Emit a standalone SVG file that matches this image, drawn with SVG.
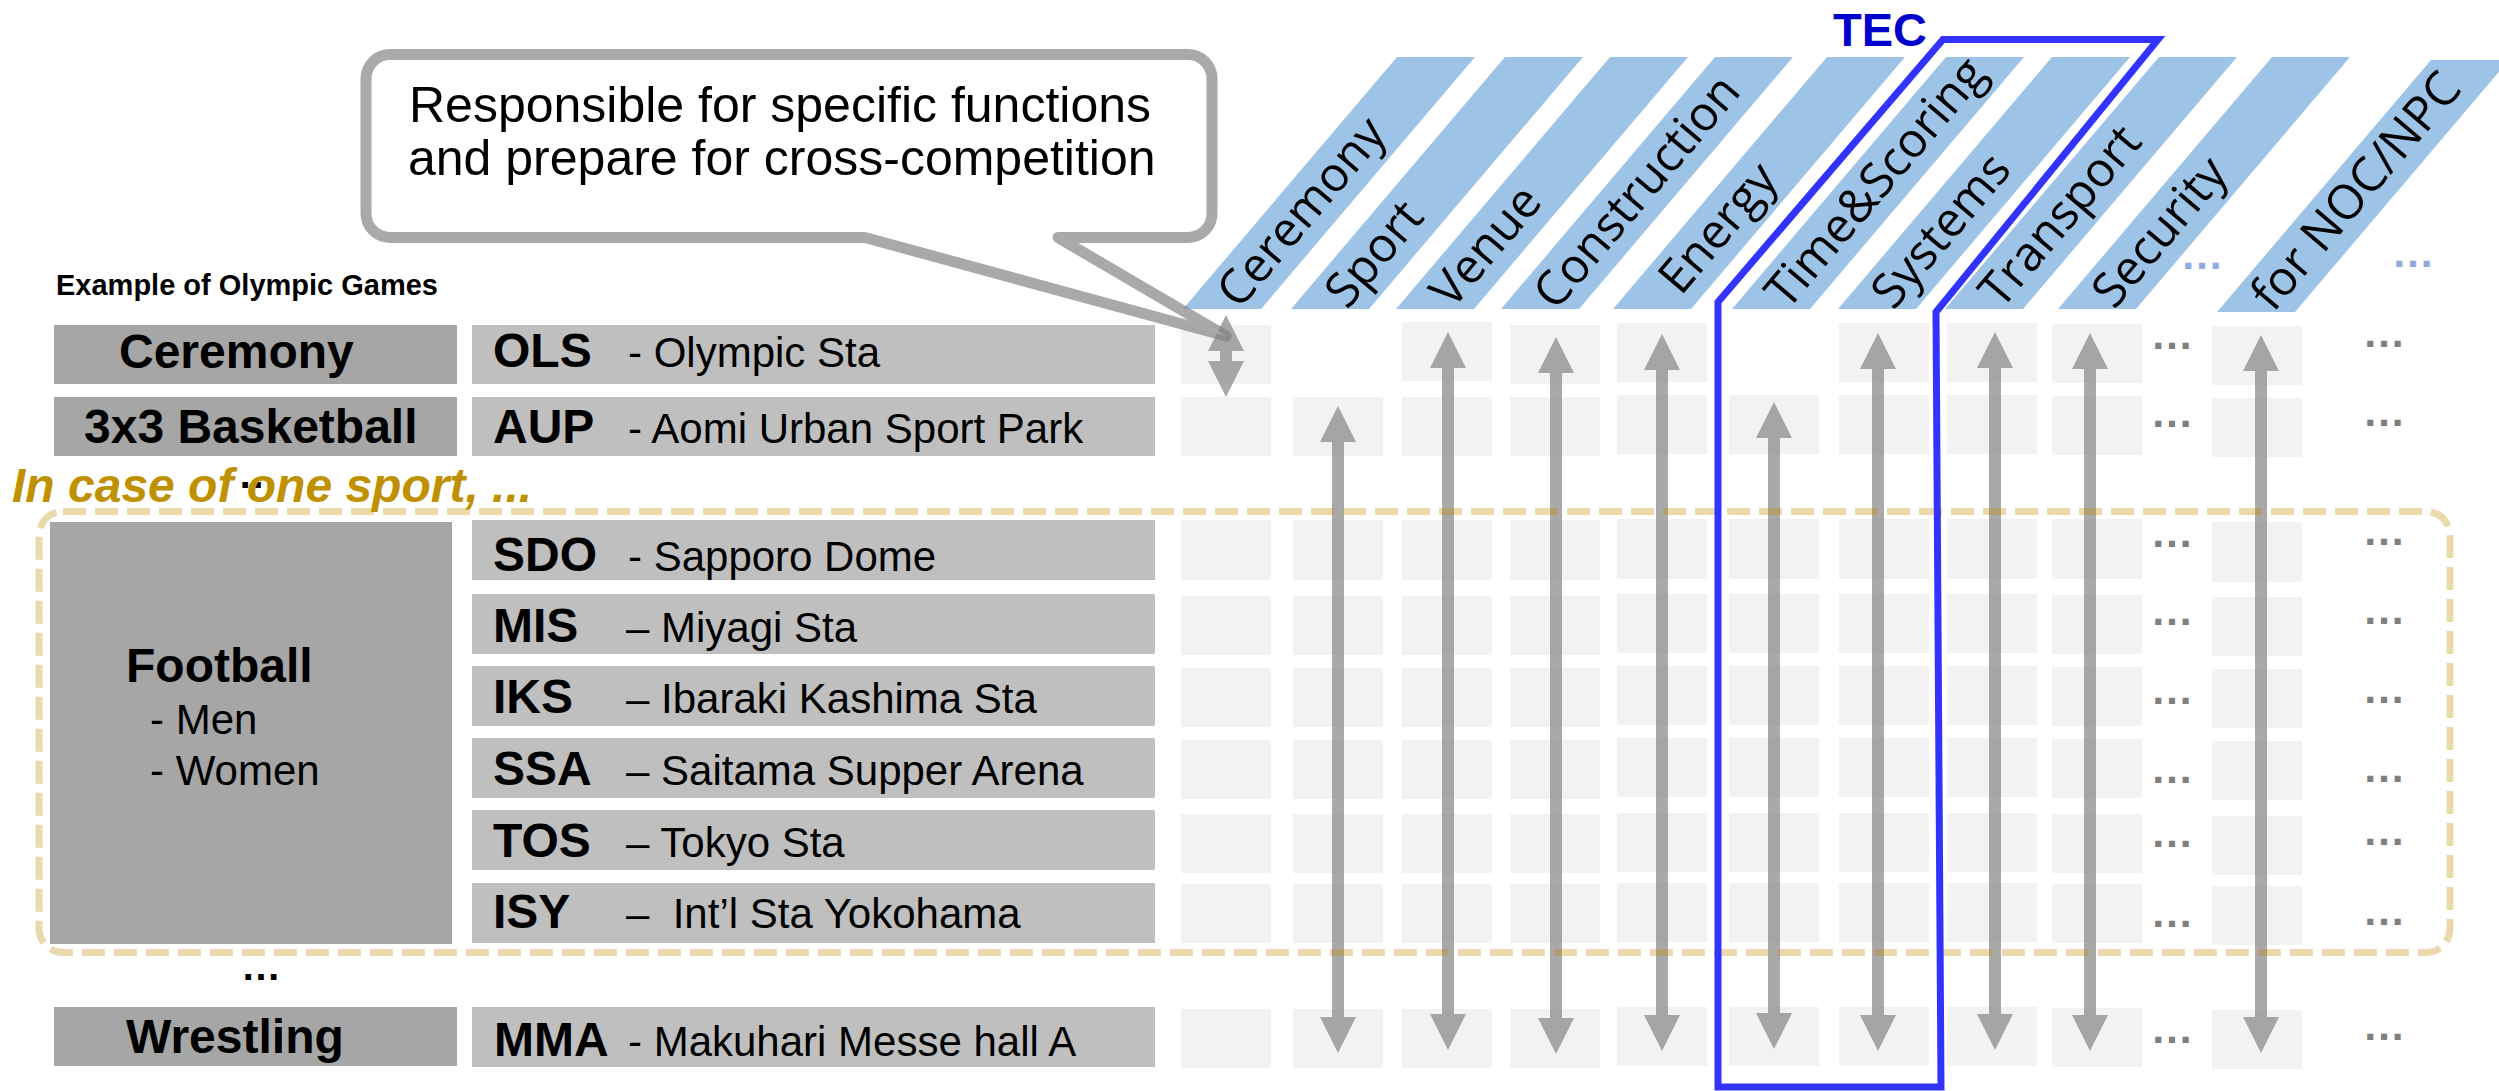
<svg xmlns="http://www.w3.org/2000/svg" width="2499" height="1091" viewBox="0 0 2499 1091">
  <style>
    .sp { fill: #A6A6A6; }
    .vn { fill: #BFBFBF; }
    .cell { fill: #F2F2F2; }
    .hd { fill: #9DC3E6; }
    .hl { font-family: "Open Sans", "Noto Sans", sans-serif; font-size: 48px; font-weight: 400; fill: #000; }
    .bold { font-family: "Liberation Sans", Arial, sans-serif; font-weight: bold; font-size: 48px; fill: #000; }
    .reg { font-family: "Liberation Sans", Arial, sans-serif; font-size: 42px; fill: #000; }
    .arr { fill: #808080; fill-opacity: 0.68; }
    .gdots { font-family: "Liberation Sans", Arial, sans-serif; font-weight: bold; font-size: 43px; fill: #7F7F7F; text-anchor: middle; }
    .bdots { font-family: "Liberation Sans", Arial, sans-serif; font-weight: bold; font-size: 43px; fill: #8FAADC; text-anchor: middle; }
    .kdots { font-family: "Liberation Sans", Arial, sans-serif; font-weight: bold; font-size: 40px; fill: #000; text-anchor: middle; }
  </style>

  <!-- function headers: slanted bands with rotated labels -->
  <g id="headers">
    <g id="hdr-ceremony"><polygon class="hd" points="1183,309 1261,309 1475,57 1397,57"/><text class="hl" transform="translate(1222,309) rotate(-49.66)" x="10" y="14">Ceremony</text></g>
    <g id="hdr-sport"><polygon class="hd" points="1291,309 1369,309 1583,57 1505,57"/><text class="hl" transform="translate(1330,309) rotate(-49.66)" x="10" y="14">Sport</text></g>
    <g id="hdr-venue"><polygon class="hd" points="1396,309 1474,309 1688,57 1610,57"/><text class="hl" transform="translate(1435,309) rotate(-49.66)" x="10" y="14">Venue</text></g>
    <g id="hdr-construction"><polygon class="hd" points="1501,309 1579,309 1793,57 1715,57"/><text class="hl" transform="translate(1540,309) rotate(-49.66)" x="8" y="14">Construction</text></g>
    <g id="hdr-energy"><polygon class="hd" points="1613,309 1691,309 1905,57 1827,57"/><text class="hl" transform="translate(1652,309) rotate(-49.66)" x="28" y="14">Energy</text></g>
    <g id="hdr-timescoring"><polygon class="hd" points="1732,309 1810,309 2024,57 1946,57"/><text class="hl" transform="translate(1771,309) rotate(-49.66)" x="9" y="14">Time&amp;Scoring</text></g>
    <g id="hdr-systems"><polygon class="hd" points="1838,309 1916,309 2130,57 2052,57"/><text class="hl" transform="translate(1877,309) rotate(-49.66)" x="9" y="14">Systems</text></g>
    <g id="hdr-transport"><polygon class="hd" points="1945,309 2023,309 2237,57 2159,57"/><text class="hl" transform="translate(1984,309) rotate(-49.66)" x="10" y="14">Transport</text></g>
    <g id="hdr-security"><polygon class="hd" points="2058,309 2136,309 2350,57 2272,57"/><text class="hl" transform="translate(2097,309) rotate(-49.66)" x="10" y="14">Security</text></g>
    <g id="hdr-noc"><polygon class="hd" points="2217,312 2295,312 2509,60 2431,60"/><text class="hl" transform="translate(2256,312) rotate(-49.66)" x="10" y="14">for NOC/NPC</text></g>
    <text class="bdots" x="2202" y="269">…</text>
    <text class="bdots" x="2413" y="267">…</text>
  </g>

  <text id="caption" x="56" y="295" font-family="Liberation Sans, Arial, sans-serif" font-weight="bold" font-size="29" fill="#000">Example of Olympic Games</text>

  <!-- sport column -->
  <g id="sports">
    <g id="sport-ceremony"><rect class="sp" x="54" y="325" width="403" height="59"/><text class="bold" x="119" y="368">Ceremony</text></g>
    <g id="sport-basketball"><rect class="sp" x="54" y="397" width="403" height="59"/><text class="bold" x="84" y="443">3x3 Basketball</text></g>
    <g id="sport-football"><rect class="sp" x="50" y="522" width="402" height="422"/><text class="bold" x="126" y="682">Football</text><text class="reg" x="150" y="734">- Men</text><text class="reg" x="150" y="785">- Women</text></g>
    <g id="sport-wrestling"><rect class="sp" x="54" y="1007" width="403" height="59"/><text class="bold" x="126" y="1053">Wrestling</text></g>
  </g>

  <!-- venue column -->
  <g id="venues">
    <g id="venue-ols"><rect class="vn" x="472" y="325" width="683" height="59"/><text class="bold" x="493" y="367">OLS</text><text class="reg" x="628" y="367">- Olympic Sta</text></g>
    <g id="venue-aup"><rect class="vn" x="472" y="397" width="683" height="59"/><text class="bold" x="493" y="443">AUP</text><text class="reg" x="628" y="443">- Aomi Urban Sport Park</text></g>
    <g id="venue-sdo"><rect class="vn" x="472" y="520" width="683" height="60"/><text class="bold" x="493" y="571">SDO</text><text class="reg" x="628" y="571">- Sapporo Dome</text></g>
    <g id="venue-mis"><rect class="vn" x="472" y="594" width="683" height="60"/><text class="bold" x="493" y="642">MIS</text><text class="reg" x="626" y="642">– Miyagi Sta</text></g>
    <g id="venue-iks"><rect class="vn" x="472" y="666" width="683" height="60"/><text class="bold" x="493" y="713">IKS</text><text class="reg" x="626" y="713">– Ibaraki Kashima Sta</text></g>
    <g id="venue-ssa"><rect class="vn" x="472" y="738" width="683" height="60"/><text class="bold" x="493" y="785">SSA</text><text class="reg" x="626" y="785">– Saitama Supper Arena</text></g>
    <g id="venue-tos"><rect class="vn" x="472" y="810" width="683" height="60"/><text class="bold" x="493" y="857">TOS</text><text class="reg" x="626" y="857">– Tokyo Sta</text></g>
    <g id="venue-isy"><rect class="vn" x="472" y="883" width="683" height="60"/><text class="bold" x="493" y="928">ISY</text><text class="reg" x="626" y="928" xml:space="preserve">–  Int’l Sta Yokohama</text></g>
    <g id="venue-mma"><rect class="vn" x="472" y="1007" width="683" height="60"/><text class="bold" x="494" y="1056">MMA</text><text class="reg" x="628" y="1056">- Makuhari Messe hall A</text></g>
  </g>

  <!-- grid of responsibility cells -->
  <g id="cells">
    <rect class="cell" x="1181" y="325" width="90" height="59"/>
    <rect class="cell" x="1402" y="322" width="90" height="59"/>
    <rect class="cell" x="1510" y="325" width="90" height="59"/>
    <rect class="cell" x="1617" y="323" width="90" height="59"/>
    <rect class="cell" x="1839" y="323" width="90" height="59"/>
    <rect class="cell" x="1947" y="323" width="90" height="59"/>
    <rect class="cell" x="2052" y="324" width="90" height="59"/>
    <rect class="cell" x="2212" y="326" width="90" height="59"/>

    <rect class="cell" x="1181" y="397" width="90" height="59"/>
    <rect class="cell" x="1293" y="397" width="90" height="59"/>
    <rect class="cell" x="1402" y="397" width="90" height="59"/>
    <rect class="cell" x="1510" y="397" width="90" height="59"/>
    <rect class="cell" x="1617" y="395" width="90" height="59"/>
    <rect class="cell" x="1729" y="395" width="90" height="59"/>
    <rect class="cell" x="1839" y="395" width="90" height="59"/>
    <rect class="cell" x="1947" y="395" width="90" height="59"/>
    <rect class="cell" x="2052" y="396" width="90" height="59"/>
    <rect class="cell" x="2212" y="398" width="90" height="59"/>

    <rect class="cell" x="1181" y="520" width="90" height="60"/>
    <rect class="cell" x="1293" y="520" width="90" height="60"/>
    <rect class="cell" x="1402" y="520" width="90" height="60"/>
    <rect class="cell" x="1510" y="520" width="90" height="60"/>
    <rect class="cell" x="1617" y="519" width="90" height="60"/>
    <rect class="cell" x="1729" y="519" width="90" height="60"/>
    <rect class="cell" x="1839" y="519" width="90" height="60"/>
    <rect class="cell" x="1947" y="519" width="90" height="60"/>
    <rect class="cell" x="2052" y="519" width="90" height="60"/>
    <rect class="cell" x="2212" y="522" width="90" height="60"/>

    <rect class="cell" x="1181" y="596" width="90" height="59"/>
    <rect class="cell" x="1293" y="596" width="90" height="59"/>
    <rect class="cell" x="1402" y="596" width="90" height="59"/>
    <rect class="cell" x="1510" y="596" width="90" height="59"/>
    <rect class="cell" x="1617" y="594" width="90" height="59"/>
    <rect class="cell" x="1729" y="594" width="90" height="59"/>
    <rect class="cell" x="1839" y="594" width="90" height="59"/>
    <rect class="cell" x="1947" y="594" width="90" height="59"/>
    <rect class="cell" x="2052" y="595" width="90" height="59"/>
    <rect class="cell" x="2212" y="597" width="90" height="59"/>

    <rect class="cell" x="1181" y="668" width="90" height="59"/>
    <rect class="cell" x="1293" y="668" width="90" height="59"/>
    <rect class="cell" x="1402" y="668" width="90" height="59"/>
    <rect class="cell" x="1510" y="668" width="90" height="59"/>
    <rect class="cell" x="1617" y="666" width="90" height="59"/>
    <rect class="cell" x="1729" y="666" width="90" height="59"/>
    <rect class="cell" x="1839" y="666" width="90" height="59"/>
    <rect class="cell" x="1947" y="666" width="90" height="59"/>
    <rect class="cell" x="2052" y="667" width="90" height="59"/>
    <rect class="cell" x="2212" y="669" width="90" height="59"/>

    <rect class="cell" x="1181" y="740" width="90" height="59"/>
    <rect class="cell" x="1293" y="740" width="90" height="59"/>
    <rect class="cell" x="1402" y="740" width="90" height="59"/>
    <rect class="cell" x="1510" y="740" width="90" height="59"/>
    <rect class="cell" x="1617" y="738" width="90" height="59"/>
    <rect class="cell" x="1729" y="738" width="90" height="59"/>
    <rect class="cell" x="1839" y="738" width="90" height="59"/>
    <rect class="cell" x="1947" y="738" width="90" height="59"/>
    <rect class="cell" x="2052" y="739" width="90" height="59"/>
    <rect class="cell" x="2212" y="741" width="90" height="59"/>

    <rect class="cell" x="1181" y="814" width="90" height="59"/>
    <rect class="cell" x="1293" y="814" width="90" height="59"/>
    <rect class="cell" x="1402" y="814" width="90" height="59"/>
    <rect class="cell" x="1510" y="814" width="90" height="59"/>
    <rect class="cell" x="1617" y="813" width="90" height="59"/>
    <rect class="cell" x="1729" y="813" width="90" height="59"/>
    <rect class="cell" x="1839" y="813" width="90" height="59"/>
    <rect class="cell" x="1947" y="813" width="90" height="59"/>
    <rect class="cell" x="2052" y="814" width="90" height="59"/>
    <rect class="cell" x="2212" y="816" width="90" height="59"/>

    <rect class="cell" x="1181" y="884" width="90" height="59"/>
    <rect class="cell" x="1293" y="884" width="90" height="59"/>
    <rect class="cell" x="1402" y="884" width="90" height="59"/>
    <rect class="cell" x="1510" y="884" width="90" height="59"/>
    <rect class="cell" x="1617" y="883" width="90" height="59"/>
    <rect class="cell" x="1729" y="883" width="90" height="59"/>
    <rect class="cell" x="1839" y="883" width="90" height="59"/>
    <rect class="cell" x="1947" y="883" width="90" height="59"/>
    <rect class="cell" x="2052" y="884" width="90" height="59"/>
    <rect class="cell" x="2212" y="886" width="90" height="59"/>

    <rect class="cell" x="1181" y="1009" width="90" height="59"/>
    <rect class="cell" x="1293" y="1009" width="90" height="59"/>
    <rect class="cell" x="1402" y="1009" width="90" height="59"/>
    <rect class="cell" x="1510" y="1009" width="90" height="59"/>
    <rect class="cell" x="1617" y="1007" width="90" height="59"/>
    <rect class="cell" x="1729" y="1007" width="90" height="59"/>
    <rect class="cell" x="1839" y="1007" width="90" height="59"/>
    <rect class="cell" x="1947" y="1007" width="90" height="59"/>
    <rect class="cell" x="2052" y="1008" width="90" height="59"/>
    <rect class="cell" x="2212" y="1010" width="90" height="59"/>
  </g>

  <!-- double-headed connectors down each function column -->
  <g id="connectors">
    <path class="arr" d="M1226 315 L1244 351 L1232 351 L1232 361 L1244 361 L1226 397 L1208 361 L1220 361 L1220 351 L1208 351Z"/>
    <path class="arr" d="M1338 406 L1356 442 L1344 442 L1344 1017 L1356 1017 L1338 1053 L1320 1017 L1332 1017 L1332 442 L1320 442Z"/>
    <path class="arr" d="M1448 332 L1466 368 L1454 368 L1454 1014 L1466 1014 L1448 1050 L1430 1014 L1442 1014 L1442 368 L1430 368Z"/>
    <path class="arr" d="M1556 337 L1574 373 L1562 373 L1562 1018 L1574 1018 L1556 1054 L1538 1018 L1550 1018 L1550 373 L1538 373Z"/>
    <path class="arr" d="M1662 334 L1680 370 L1668 370 L1668 1015 L1680 1015 L1662 1051 L1644 1015 L1656 1015 L1656 370 L1644 370Z"/>
    <path class="arr" d="M1774 402 L1792 438 L1780 438 L1780 1013 L1792 1013 L1774 1049 L1756 1013 L1768 1013 L1768 438 L1756 438Z"/>
    <path class="arr" d="M1878 333 L1896 369 L1884 369 L1884 1015 L1896 1015 L1878 1051 L1860 1015 L1872 1015 L1872 369 L1860 369Z"/>
    <path class="arr" d="M1995 332 L2013 368 L2001 368 L2001 1014 L2013 1014 L1995 1050 L1977 1014 L1989 1014 L1989 368 L1977 368Z"/>
    <path class="arr" d="M2090 333 L2108 369 L2096 369 L2096 1015 L2108 1015 L2090 1051 L2072 1015 L2084 1015 L2084 369 L2072 369Z"/>
    <path class="arr" d="M2261 335 L2279 371 L2267 371 L2267 1017 L2279 1017 L2261 1053 L2243 1017 L2255 1017 L2255 371 L2243 371Z"/>
  </g>

  <!-- ellipsis marks for further functions -->
  <g id="more-functions">
    <text class="gdots" x="2172" y="349">…</text><text class="gdots" x="2384" y="347">…</text>
    <text class="gdots" x="2172" y="427">…</text><text class="gdots" x="2384" y="426">…</text>
    <text class="gdots" x="2172" y="547">…</text><text class="gdots" x="2384" y="545">…</text>
    <text class="gdots" x="2172" y="625">…</text><text class="gdots" x="2384" y="624">…</text>
    <text class="gdots" x="2172" y="704">…</text><text class="gdots" x="2384" y="703">…</text>
    <text class="gdots" x="2172" y="783">…</text><text class="gdots" x="2384" y="782">…</text>
    <text class="gdots" x="2172" y="847">…</text><text class="gdots" x="2384" y="845">…</text>
    <text class="gdots" x="2172" y="927">…</text><text class="gdots" x="2384" y="925">…</text>
    <text class="gdots" x="2172" y="1043">…</text><text class="gdots" x="2384" y="1040">…</text>
  </g>

  <!-- single-sport grouping frame -->
  <rect id="one-sport-frame" x="39" y="511.5" width="2411" height="441" rx="24" fill="none" stroke="#BF9000" stroke-opacity="0.33" stroke-width="7" stroke-dasharray="23 9"/>

  <text class="kdots" x="258" y="488">…</text>
  <text class="kdots" x="261" y="980">…</text>
  <text id="one-sport-note" x="12" y="502" font-family="Liberation Sans, Arial, sans-serif" font-weight="bold" font-style="italic" font-size="48" fill="#BF9000">In case of one sport, ...</text>

  <!-- callout -->
  <g id="callout">
    <path d="M390 54.5 H1188 A24 24 0 0 1 1212 78.5 V213.5 A24 24 0 0 1 1188 237.5 H1058 L1226 336 L865 237.5 H390 A24 24 0 0 1 366 213.5 V78.5 A24 24 0 0 1 390 54.5 Z" fill="#FFFFFF" stroke="#808080" stroke-opacity="0.68" stroke-width="11" stroke-linejoin="round"/>
    <text font-family="Liberation Sans, Arial, sans-serif" font-size="50" fill="#000"><tspan x="409" y="122">Responsible for specific functions</tspan><tspan x="408" y="175">and prepare for cross-competition</tspan></text>
  </g>

  <!-- TEC scope outline -->
  <g id="tec">
    <path d="M1718 1087 L1718 302 L1943 39.5 L2158 39.5 L1936 312 L1941 1087 Z" fill="none" stroke="#3333FF" stroke-width="7"/>
    <text x="1833" y="46" font-family="Liberation Sans, Arial, sans-serif" font-weight="bold" font-size="47" fill="#0000CC">TEC</text>
  </g>
</svg>
